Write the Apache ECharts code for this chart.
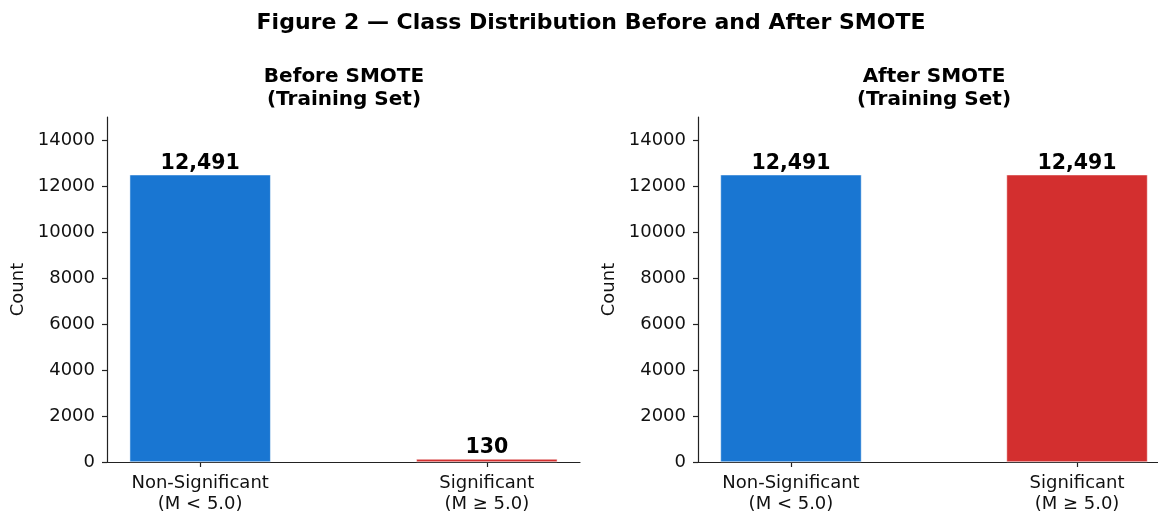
<!DOCTYPE html>
<html>
<head>
<meta charset="utf-8">
<script src="https://cdn.jsdelivr.net/npm/echarts@6/dist/echarts.min.js"></script>
<style>html,body{margin:0;padding:0;background:#fff}#c{width:1158px;height:515px}</style>
</head>
<body>
<div id="c"></div>
<script>
const categories = ['Non-Significant\n(M < 5.0)', 'Significant\n(M ≥ 5.0)'];
const beforeCounts = [12491, 130];
const afterCounts = [12491, 12491];
const yTicks = [0, 2000, 4000, 6000, 8000, 10000, 12000, 14000];
const panelTitles = ['Before SMOTE\n(Training Set)', 'After SMOTE\n(Training Set)'];
const mainTitle = 'Figure 2 — Class Distribution Before and After SMOTE';
const barColors = ['#1976D2', '#D32F2F'];

const FONT = 'DejaVu Sans';
const chart = echarts.init(document.getElementById('c'), null, {renderer: 'canvas'});
const grids = [
  {left: 107, width: 473, top: 117, bottom: 53, outerBoundsMode: 'none', containLabel: false},
  {left: 698, width: 472, top: 117, bottom: 53, outerBoundsMode: 'none', containLabel: false}
];
const xPos = categories.map((_, i) => i);
function xAxis(gi) {
  return {
    type: 'value', gridIndex: gi, min: -0.325, max: 1.325,
    axisLine: {show: true, onZero: false, lineStyle: {color: '#222', width: 1.2}},
    axisTick: {show: true, customValues: xPos, length: 5, lineStyle: {color: '#222', width: 1.2}},
    axisLabel: {show: true, customValues: xPos, formatter: v => categories[Math.round(v)] || '',
      fontFamily: FONT, fontSize: 18, color: '#111', lineHeight: 21, margin: 11},
    splitLine: {show: false}
  };
}
function yAxis(gi) {
  return {
    type: 'value', gridIndex: gi, min: 0, max: 15000,
    name: 'Count', nameLocation: 'middle', nameGap: 80, nameRotate: 90,
    nameTextStyle: {fontFamily: FONT, fontSize: 18, color: '#111'},
    axisLine: {show: true, onZero: false, lineStyle: {color: '#222', width: 1.2}},
    axisTick: {show: true, customValues: yTicks, length: 5, lineStyle: {color: '#222', width: 1.2}},
    axisLabel: {show: true, customValues: yTicks, formatter: v => String(v),
      fontFamily: FONT, fontSize: 18, color: '#111', margin: 12},
    splitLine: {show: false}
  };
}
function series(gi, vals) {
  return {
    type: 'bar', xAxisIndex: gi, yAxisIndex: gi, barWidth: 141,
    data: vals.map((v, i) => ({value: [i, v], itemStyle: {color: barColors[i]}})),
    itemStyle: {borderColor: '#fff', borderWidth: 0.5},
    label: {show: true, position: 'top', distance: 1, fontFamily: FONT, fontWeight: 'bold', fontSize: 20.5, color: '#000',
      formatter: p => p.value[1].toLocaleString('en-US')}
  };
}
chart.setOption({
  animation: false,
  backgroundColor: '#fff',
  title: [
    {text: mainTitle, left: 586, top: 7, textAlign: 'center',
      textStyle: {fontFamily: FONT, fontWeight: 'bold', fontSize: 22, color: '#000'}},
    {text: panelTitles[0], left: 339, top: 60, textAlign: 'center',
      textStyle: {fontFamily: FONT, fontWeight: 'bold', fontSize: 20, color: '#000', lineHeight: 23}},
    {text: panelTitles[1], left: 929, top: 60, textAlign: 'center',
      textStyle: {fontFamily: FONT, fontWeight: 'bold', fontSize: 20, color: '#000', lineHeight: 23}}
  ],
  grid: grids,
  xAxis: [xAxis(0), xAxis(1)],
  yAxis: [yAxis(0), yAxis(1)],
  series: [series(0, beforeCounts), series(1, afterCounts)]
});
</script>
</body>
</html>
